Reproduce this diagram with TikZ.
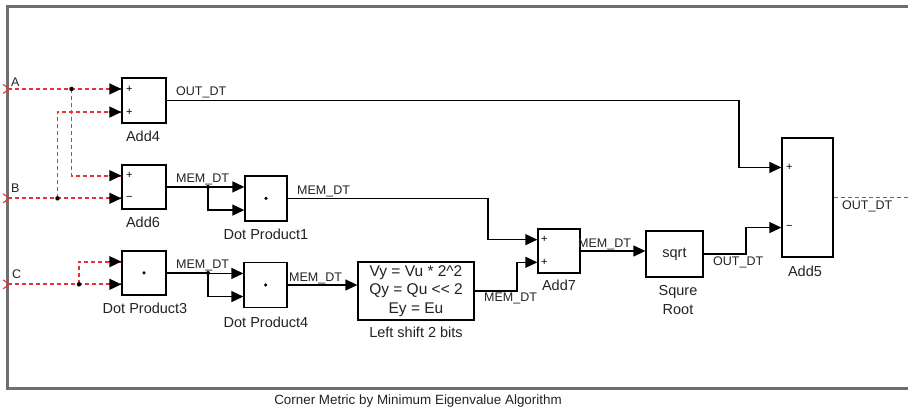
\documentclass[tikz,border=0pt]{standalone}
\usepackage{fontspec}
\setmainfont{Liberation Sans}
\usetikzlibrary{arrows.meta,calc}
\definecolor{sigred}{RGB}{230,50,50}
\definecolor{framegray}{RGB}{110,110,110}
\definecolor{txt}{RGB}{34,34,34}
\tikzset{
  blockbox/.style={draw=black, line width=1.3pt, inner sep=0pt, fill=white},
  sig/.style={color=black, line width=1.3pt, -{Triangle[length=12pt,width=11pt]}},
  plainsig/.style={color=black, line width=1.3pt},
  redline/.style={color=sigred, line width=1.9pt, dash pattern=on 4pt off 3pt},
  lbl/.style={font=\fontsize{12.5}{14}\selectfont, text=txt, inner sep=0pt},
  blbl/.style={font=\fontsize{14.5}{17}\selectfont, text=txt, inner sep=0pt},
  sign/.style={font=\fontsize{11}{12}\selectfont, text=black, inner sep=0pt},
  dotj/.style={circle, fill=black, inner sep=0pt, minimum size=4.5pt},
  centerdot/.style={circle, fill=black, inner sep=0pt, minimum size=3.5pt},
}
\begin{document}
\begin{tikzpicture}[x=1pt,y=-1pt]
\useasboundingbox (0,0) rectangle (908,411);
% frame
\draw[framegray, line width=3pt] (910,7) -- (7.5,7) -- (7.5,388.5) -- (910,388.5);
% blocks
\node[blockbox, minimum width=44pt, minimum height=45pt] (add4) at (144,100.5) {};
\node[blockbox, minimum width=44pt, minimum height=44pt] (add6) at (144,187) {};
\node[blockbox, minimum width=42pt, minimum height=45pt] (dp1) at (266,198.5) {};
\node[blockbox, minimum width=44pt, minimum height=44pt] (dp3) at (144,273) {};
\node[blockbox, minimum width=43pt, minimum height=45pt] (dp4) at (265.5,285) {};
\node[blockbox, minimum width=116pt, minimum height=58pt, align=center, font=\fontsize{15.5}{18.4}\selectfont, text=txt] (shift) at (416,291) {Vy = Vu * 2\^{}2\\Qy = Qu <{}< 2\\Ey = Eu};
\node[blockbox, minimum width=42pt, minimum height=44pt] (add7) at (559,251) {};
\node[blockbox, minimum width=57pt, minimum height=46pt, font=\fontsize{14.5}{17}\selectfont, text=txt] (sqrtb) at (674.5,254) {sqrt};
\node[blockbox, minimum width=51pt, minimum height=119pt] (add5) at (807.5,197.5) {};
% ports
\foreach \b in {add4,add6,dp1,dp3,dp4,add7,add5}{
  \coordinate (\b i1) at ($(\b.north west)!0.25!(\b.south west)$);
  \coordinate (\b i2) at ($(\b.north west)!0.75!(\b.south west)$);
}
% signs
\node[sign] (s41) at ($(add4i1)+(8,0)$) {+};
\node[sign] (s42) at ($(add4i2)+(8,0)$) {+};
\node[sign] (s61) at ($(add6i1)+(8,0)$) {+};
\node[sign] (s62) at ($(add6i2)+(8,0)$) {−};
\node[sign] (s71) at ($(add7i1)+(7,0)$) {+};
\node[sign] (s72) at ($(add7i2)+(7,0)$) {+};
\node[sign] (s51) at ($(add5i1)+(8,0)$) {+};
\node[sign] (s52) at ($(add5i2)+(8,0)$) {−};
\node[centerdot] (c1) at (dp1.center) {};
\node[centerdot] (c3) at (dp3.center) {};
\node[centerdot] (c4) at (dp4.center) {};
% inputs
\coordinate (leftedge) at (8,0);
\coordinate (inA) at (add4i1 -| leftedge);
\coordinate (inB) at (add6i2 -| leftedge);
\coordinate (inC) at (dp3i2 -| leftedge);
\coordinate (xA) at (71.5,0);
\coordinate (xB) at (57.5,0);
\coordinate (xC) at (79,0);
\coordinate (jA) at (inA -| xA);
\coordinate (jB) at (inB -| xB);
\coordinate (jC) at (inC -| xC);
\coordinate (outR) at (910,0);
\draw[redline] (inA) -- (add4i1)
  (jA) |- (add6i1)
  (inB) -- (add6i2)
  (jB) |- (add4i2)
  (inC) -- (dp3i2)
  (jC) |- (dp3i1)
  (add5.east) -- (add5.east -| outR);
\foreach \p in {add4i1,add4i2,add6i1,add6i2,dp3i1,dp3i2}{
  \draw[sig] ($(\p)+(-12,0)$) -- (\p);
}
\node[dotj] (dA) at (jA) {};
\node[dotj] (dB) at (jB) {};
\node[dotj] (dC) at (jC) {};
\foreach \p in {inA,inB,inC}{
  \draw[sigred, line width=1.1pt] ($(\p)+(-5,-4.5)$) -- ($(\p)+(1.5,0)$) -- ($(\p)+(-5,4.5)$);
}
\node[lbl, anchor=south west] (lA) at (11,87) {A};
\node[lbl, anchor=south west] (lB) at (11,193) {B};
\node[lbl, anchor=south west] (lC) at (12,279) {C};
% black signals
\coordinate (x6) at (208,0);
\coordinate (j6) at (add6.east -| x6);
\draw[plainsig] (add6.east) -- (j6);
\draw[sig] (j6) |- (dp1i1);
\draw[sig] (j6) |- (dp1i2);
\node[dotj, minimum size=4pt] (d6) at (j6) {};
\coordinate (j3) at (dp3.east -| x6);
\draw[plainsig] (dp3.east) -- (j3);
\draw[sig] (j3) |- (dp4i1);
\draw[sig] (j3) |- (dp4i2);
\node[dotj, minimum size=4pt] (d3) at (j3) {};
\draw[sig] (dp4.east) -- (dp4.east -| shift.west);
\coordinate (x1) at (488,0);
\draw[sig] (dp1.east) -- (dp1.east -| x1) |- (add7i1);
\coordinate (xs) at (517,0);
\draw[sig] (shift.east) -- (shift.east -| xs) |- (add7i2);
\draw[sig] (add7.east) -- (add7.east -| sqrtb.west);
\coordinate (xq) at (746,0);
\draw[sig] (sqrtb.east) -- (sqrtb.east -| xq) |- (add5i2);
\coordinate (x4) at (739,0);
\draw[sig] (add4.east) -- (add4.east -| x4) |- (add5i1);
% signal labels
\node[lbl, anchor=south west] (o4) at (176,98) {OUT\_DT};
\node[lbl, anchor=south west] (m6) at (176,185) {MEM\_DT};
\node[lbl, anchor=south west] (m1) at (297,197) {MEM\_DT};
\node[lbl, anchor=south west] (m3) at (176,271) {MEM\_DT};
\node[lbl, anchor=south west] (m4) at (289,284) {MEM\_DT};
\node[lbl, anchor=north west] (ms) at (484,293) {MEM\_DT};
\node[lbl, anchor=south west] (m7) at (578,250) {MEM\_DT};
\node[lbl, anchor=north west] (oq) at (713,257) {OUT\_DT};
\node[lbl, anchor=north west] (o5) at (842,201) {OUT\_DT};
% block labels
\node[blbl] (t4) at (143,136) {Add4};
\node[blbl] (t6) at (143,222) {Add6};
\node[blbl] (t1) at (266,234) {Dot Product1};
\node[blbl] (t3) at (145,308) {Dot Product3};
\node[blbl] (tdp4) at (266,322) {Dot Product4};
\node[blbl] (tsh) at (416,332) {Left shift 2 bits};
\node[blbl] (t7) at (559,285) {Add7};
\node[blbl, align=center, font=\fontsize{14.5}{18.5}\selectfont] (tq) at (678,300) {Squre\\Root};
\node[blbl] (t5) at (805,271) {Add5};
% caption
\node[lbl, font=\fontsize{13.4}{15}\selectfont] (cap) at (418,401) {Corner Metric by Minimum Eigenvalue Algorithm};
\end{tikzpicture}
\end{document}
